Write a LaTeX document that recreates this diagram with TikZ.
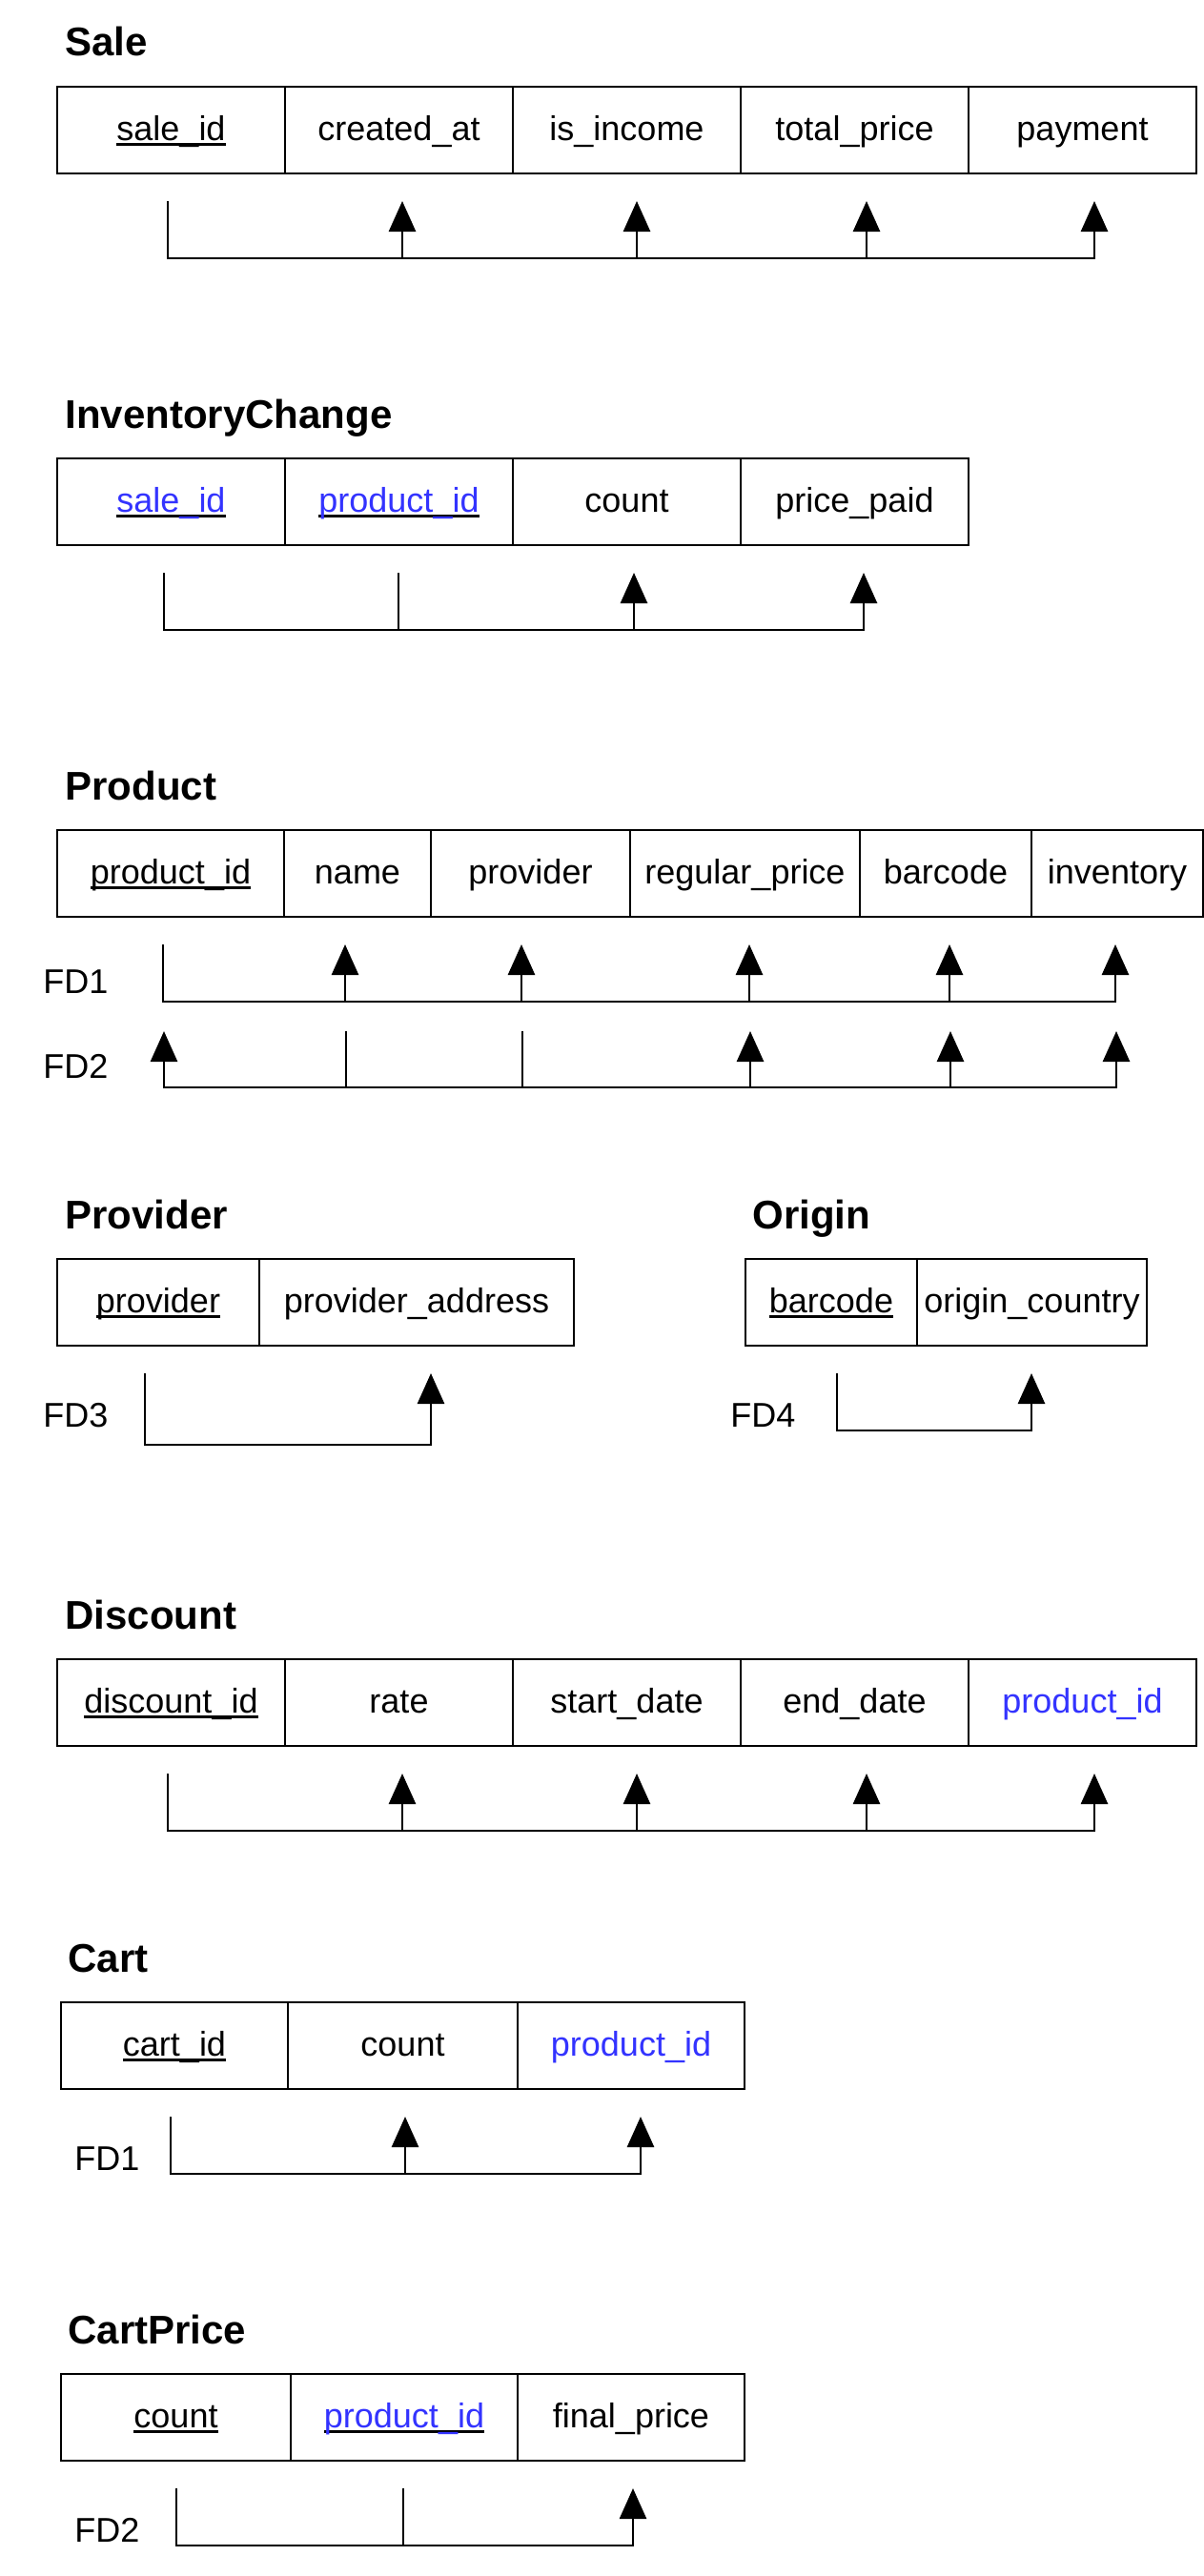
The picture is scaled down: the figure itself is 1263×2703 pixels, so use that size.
\documentclass[tikz,border=0pt]{standalone}
\usepackage{fontspec}
\setmainfont{Liberation Sans}
\usetikzlibrary{arrows.meta}
\definecolor{fkblue}{RGB}{51,51,255}
% key attribute: black underline under the name
\newcommand{\keyattr}[1]{\setbox0\hbox{#1}\rlap{\color{black}\rule[-6pt]{\wd0}{2.6pt}}\box0}

\begin{document}
\begin{tikzpicture}[x=1pt, y=-1pt, line width=2.7pt, >={Triangle[length=32pt,width=28pt]},
    cell/.style={draw, anchor=north west, minimum height=91pt, inner sep=0pt, outer sep=0pt,
      text height=27pt, text depth=6pt, font=\fontsize{36}{43}\selectfont},
    title/.style={anchor=base west, inner sep=0pt, font=\bfseries\fontsize{42}{50}\selectfont},
    fdlabel/.style={anchor=base west, inner sep=0pt, font=\fontsize{36}{43}\selectfont},
    fk/.style={text=fkblue}]
\useasboundingbox[fill=white] (0,0) rectangle (1263,2703);

% Sale
\node[title] (saleT) at (67,59) {Sale};
\node[cell, minimum width=239pt] (sale1) at (60,91) {\keyattr{sale\_id}};
\node[cell, minimum width=239pt] (sale2) at (299,91) {created\_at};
\node[cell, minimum width=239pt] (sale3) at (538,91) {is\_income};
\node[cell, minimum width=239pt] (sale4) at (777,91) {total\_price};
\node[cell, minimum width=239pt] (sale5) at (1016,91) {payment};
\foreach \n/\x in {1/176,2/422,3/668,4/909,5/1148}{
  \coordinate (saleu\n) at (\x,211); \coordinate (saled\n) at (\x,271);}
\draw[->] (saleu1) -- (saled1) -- (saled5) -- (saleu5);
\foreach \n in {2,3,4} \draw[->] (saled\n) -- (saleu\n);

% InventoryChange
\node[title] (invT) at (67,449) {InventoryChange};
\node[cell, fk, minimum width=239pt] (inv1) at (60,481) {\keyattr{sale\_id}};
\node[cell, fk, minimum width=239pt] (inv2) at (299,481) {\keyattr{product\_id}};
\node[cell, minimum width=239pt] (inv3) at (538,481) {count};
\node[cell, minimum width=239pt] (inv4) at (777,481) {price\_paid};
\foreach \n/\x in {1/172,2/418,3/665,4/906}{
  \coordinate (invu\n) at (\x,601); \coordinate (invd\n) at (\x,661);}
\draw[->] (invu1) -- (invd1) -- (invd4) -- (invu4);
\draw (invd2) -- (invu2);
\draw[->] (invd3) -- (invu3);

% Product
\node[title] (prodT) at (67,839) {Product};
\node[cell, minimum width=238pt] (prod1) at (60,871) {\keyattr{product\_id}};
\node[cell, minimum width=154pt] (prod2) at (298,871) {name};
\node[cell, minimum width=209pt] (prod3) at (452,871) {provider};
\node[cell, minimum width=241pt] (prod4) at (661,871) {regular\_price};
\node[cell, minimum width=180pt] (prod5) at (902,871) {barcode};
\node[cell, minimum width=180pt] (prod6) at (1082,871) {inventory};
\node[fdlabel] (fd1) at (44,1042) {FD1};
\node[fdlabel] (fd2) at (44,1131) {FD2};
\foreach \n/\x in {1/171,2/362,3/547,4/786,5/996,6/1170}{
  \coordinate (produ\n) at (\x,991); \coordinate (prodd\n) at (\x,1051);
  \coordinate (prodv\n) at (\x+1,1082); \coordinate (prodw\n) at (\x+1,1141);}
\draw[->] (produ1) -- (prodd1) -- (prodd6) -- (produ6);
\foreach \n in {2,...,5} \draw[->] (prodd\n) -- (produ\n);
\draw[<->] (prodv1) -- (prodw1) -- (prodw6) -- (prodv6);
\foreach \n in {2,3} \draw (prodw\n) -- (prodv\n);
\foreach \n in {4,5} \draw[->] (prodw\n) -- (prodv\n);

% Provider
\node[title] (provT) at (67,1289) {Provider};
\node[cell, minimum width=212pt] (prov1) at (60,1321) {\keyattr{provider}};
\node[cell, minimum width=330pt] (prov2) at (272,1321) {provider\_address};
\node[fdlabel] (fd3) at (44,1497) {FD3};
\coordinate (provu1) at (152,1441); \coordinate (provd1) at (152,1516);
\coordinate (provu2) at (452,1441); \coordinate (provd2) at (452,1516);
\draw[->] (provu1) -- (provd1) -- (provd2) -- (provu2);

% Origin
\node[title] (origT) at (788,1289) {Origin};
\node[cell, minimum width=180pt] (orig1) at (782,1321) {\keyattr{barcode}};
\node[cell, minimum width=241pt] (orig2) at (962,1321) {origin\_country};
\node[fdlabel] (fd4) at (765,1497) {FD4};
\coordinate (origu1) at (878,1441); \coordinate (origd1) at (878,1501);
\coordinate (origu2) at (1082,1441); \coordinate (origd2) at (1082,1501);
\draw[->] (origu1) -- (origd1) -- (origd2) -- (origu2);

% Discount
\node[title] (discT) at (67,1709) {Discount};
\node[cell, minimum width=239pt] (disc1) at (60,1741) {\keyattr{discount\_id}};
\node[cell, minimum width=239pt] (disc2) at (299,1741) {rate};
\node[cell, minimum width=239pt] (disc3) at (538,1741) {start\_date};
\node[cell, minimum width=239pt] (disc4) at (777,1741) {end\_date};
\node[cell, fk, minimum width=239pt] (disc5) at (1016,1741) {product\_id};
\foreach \n/\x in {1/176,2/422,3/668,4/909,5/1148}{
  \coordinate (discu\n) at (\x,1861); \coordinate (discd\n) at (\x,1921);}
\draw[->] (discu1) -- (discd1) -- (discd5) -- (discu5);
\foreach \n in {2,3,4} \draw[->] (discd\n) -- (discu\n);

% Cart
\node[title] (cartT) at (70,2069) {Cart};
\node[cell, minimum width=238pt] (cart1) at (64,2101) {\keyattr{cart\_id}};
\node[cell, minimum width=241pt] (cart2) at (302,2101) {count};
\node[cell, fk, minimum width=238pt] (cart3) at (543,2101) {product\_id};
\node[fdlabel] (fd5) at (77,2277) {FD1};
\foreach \n/\x in {1/179,2/425,3/672}{
  \coordinate (cartu\n) at (\x,2221); \coordinate (cartd\n) at (\x,2281);}
\draw[->] (cartu1) -- (cartd1) -- (cartd3) -- (cartu3);
\draw[->] (cartd2) -- (cartu2);

% CartPrice
\node[title] (cpT) at (70,2459) {CartPrice};
\node[cell, minimum width=241pt] (cp1) at (64,2491) {\keyattr{count}};
\node[cell, fk, minimum width=238pt] (cp2) at (305,2491) {\keyattr{product\_id}};
\node[cell, minimum width=238pt] (cp3) at (543,2491) {final\_price};
\node[fdlabel] (fd6) at (77,2667) {FD2};
\foreach \n/\x in {1/185,2/423,3/664}{
  \coordinate (cpu\n) at (\x,2611); \coordinate (cpd\n) at (\x,2671);}
\draw[->] (cpu1) -- (cpd1) -- (cpd3) -- (cpu3);
\draw (cpd2) -- (cpu2);
\end{tikzpicture}
\end{document}
